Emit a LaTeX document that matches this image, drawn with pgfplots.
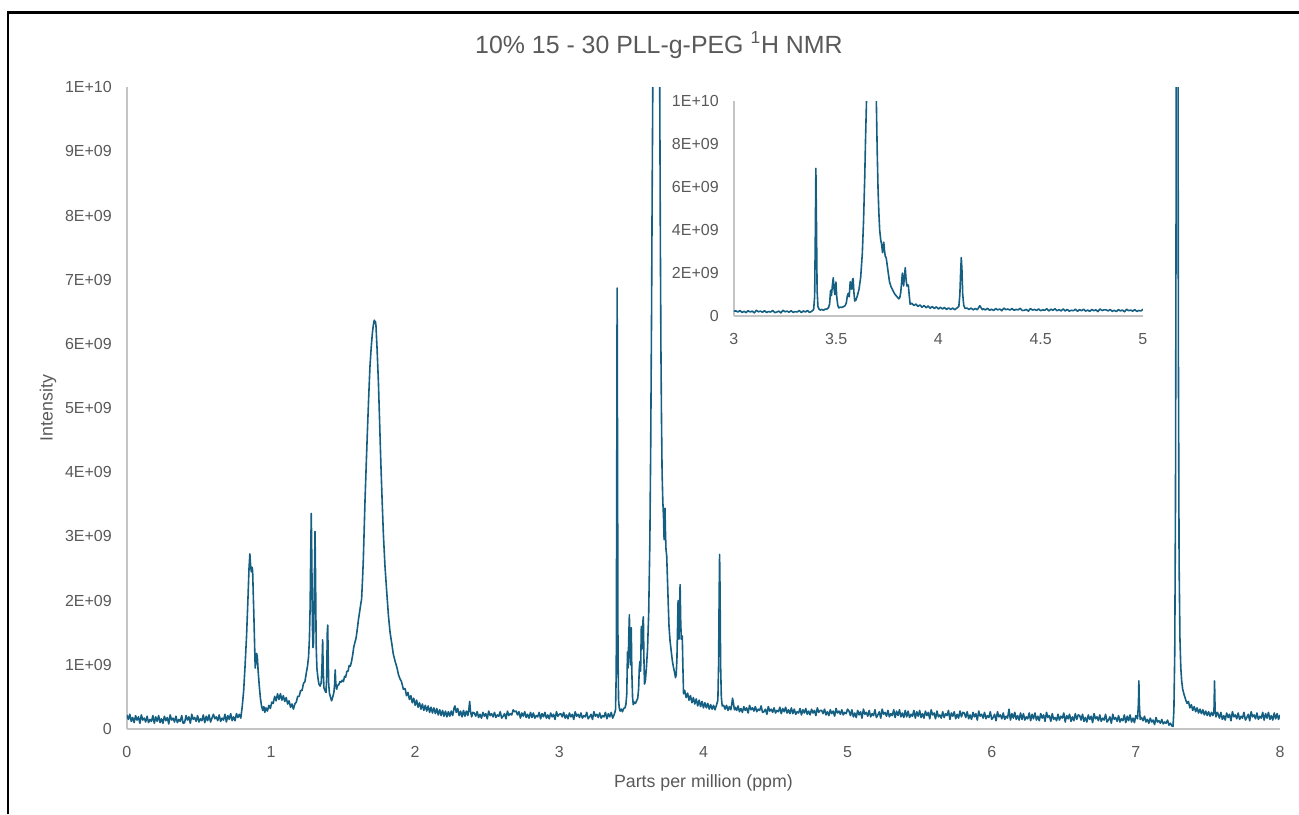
\documentclass[border=0pt]{standalone}
\usepackage{fontspec}
\setmainfont{Liberation Sans}
\usepackage{pgfplots}
\usepackage{pgfplotstable}
\pgfplotsset{compat=1.18}
\definecolor{specblue}{HTML}{156082}
\definecolor{txtgray}{HTML}{595959}
\definecolor{axgray}{HTML}{C4C4C4}

% spectrum, intensity in units of 1E9
\pgfplotstableread{
x y
0.00 0.22
0.01 0.15
0.02 0.23
0.03 0.12
0.04 0.18
0.05 0.10
0.06 0.21
0.07 0.14
0.08 0.19
0.09 0.09
0.10 0.22
0.11 0.14
0.12 0.17
0.13 0.11
0.14 0.20
0.15 0.10
0.16 0.15
0.17 0.12
0.18 0.21
0.19 0.09
0.20 0.19
0.21 0.12
0.22 0.21
0.23 0.10
0.24 0.16
0.25 0.09
0.26 0.20
0.27 0.13
0.28 0.18
0.29 0.08
0.30 0.22
0.31 0.14
0.32 0.17
0.33 0.11
0.34 0.20
0.35 0.10
0.36 0.15
0.37 0.12
0.38 0.21
0.39 0.09
0.40 0.10
0.41 0.21
0.42 0.14
0.43 0.19
0.44 0.09
0.45 0.23
0.46 0.15
0.47 0.18
0.48 0.12
0.49 0.21
0.50 0.11
0.51 0.16
0.52 0.13
0.53 0.22
0.54 0.10
0.55 0.20
0.56 0.13
0.57 0.22
0.58 0.11
0.59 0.17
0.60 0.23
0.61 0.16
0.62 0.19
0.63 0.13
0.64 0.22
0.65 0.12
0.66 0.17
0.67 0.14
0.68 0.23
0.69 0.11
0.70 0.21
0.71 0.15
0.72 0.24
0.73 0.13
0.74 0.19
0.75 0.13
0.76 0.24
0.77 0.18
0.78 0.23
0.79 0.17
0.800 0.35
0.810 0.60
0.820 1.00
0.830 1.45
0.840 2.05
0.847 2.50
0.853 2.73
0.858 2.55
0.863 2.45
0.868 2.52
0.872 2.47
0.876 2.15
0.881 1.75
0.886 1.30
0.890 0.95
0.895 1.05
0.900 1.18
0.905 1.12
0.910 0.92
0.918 0.68
0.926 0.48
0.934 0.36
0.942 0.29
0.950 0.35
0.957 0.26
0.965 0.33
0.975 0.28
0.985 0.37
0.995 0.32
1.005 0.42
1.015 0.40
1.025 0.51
1.035 0.44
1.045 0.55
1.055 0.46
1.065 0.55
1.075 0.45
1.085 0.52
1.095 0.43
1.105 0.49
1.115 0.39
1.125 0.44
1.135 0.34
1.145 0.39
1.155 0.31
1.165 0.39
1.175 0.42
1.185 0.51
1.195 0.51
1.205 0.60
1.215 0.60
1.225 0.71
1.235 0.74
1.245 0.88
1.253 0.98
1.260 1.12
1.266 1.40
1.271 1.90
1.275 2.70
1.279 3.36
1.283 2.60
1.287 1.60
1.291 1.27
1.295 1.35
1.300 2.20
1.305 3.08
1.309 2.30
1.313 1.30
1.318 0.95
1.325 0.80
1.332 0.70
1.340 0.67
1.348 0.72
1.353 0.95
1.358 1.39
1.362 0.90
1.367 0.64
1.374 0.60
1.381 0.57
1.386 0.80
1.390 1.50
1.393 1.62
1.396 1.20
1.400 0.70
1.405 0.56
1.412 0.50
1.420 0.44
1.428 0.50
1.436 0.57
1.441 0.70
1.445 0.92
1.449 0.72
1.455 0.62
1.462 0.68
1.470 0.69
1.478 0.74
1.486 0.73
1.494 0.76
1.502 0.74
1.510 0.82
1.518 0.81
1.526 0.90
1.534 0.90
1.542 0.99
1.550 0.98
1.558 1.05
1.566 1.15
1.574 1.28
1.582 1.35
1.590 1.42
1.598 1.55
1.606 1.70
1.614 1.82
1.622 1.94
1.628 2.02
1.634 2.30
1.640 2.63
1.646 3.10
1.652 3.57
1.660 4.10
1.668 4.61
1.677 5.15
1.686 5.64
1.695 5.95
1.703 6.17
1.710 6.30
1.716 6.37
1.720 6.32
1.724 6.35
1.728 6.28
1.736 5.90
1.745 5.39
1.753 4.80
1.761 4.19
1.770 3.60
1.779 3.05
1.790 2.55
1.803 2.12
1.815 1.75
1.826 1.50
1.837 1.34
1.848 1.17
1.860 1.06
1.872 0.97
1.885 0.84
1.895 0.78
1.905 0.74
1.918 0.62
1.930 0.63
1.940 0.52
1.950 0.57
1.960 0.46
1.970 0.52
1.980 0.41
1.990 0.48
2.000 0.37
2.010 0.45
2.020 0.34
2.030 0.41
2.040 0.31
2.050 0.39
2.060 0.29
2.070 0.37
2.080 0.28
2.090 0.36
2.100 0.26
2.110 0.34
2.120 0.25
2.130 0.33
2.140 0.24
2.150 0.32
2.160 0.22
2.170 0.30
2.180 0.21
2.190 0.29
2.200 0.20
2.210 0.28
2.220 0.19
2.230 0.27
2.240 0.20
2.250 0.28
2.260 0.21
2.270 0.33
2.276 0.36
2.285 0.26
2.295 0.32
2.305 0.21
2.315 0.28
2.325 0.19
2.335 0.29
2.345 0.20
2.355 0.28
2.365 0.21
2.372 0.30
2.378 0.43
2.384 0.27
2.392 0.19
2.400 0.26
2.41 0.25
2.42 0.20
2.43 0.27
2.44 0.18
2.45 0.23
2.46 0.17
2.47 0.26
2.48 0.20
2.49 0.24
2.50 0.16
2.51 0.28
2.52 0.21
2.53 0.24
2.54 0.19
2.55 0.26
2.56 0.18
2.57 0.22
2.58 0.20
2.59 0.27
2.60 0.17
2.61 0.20
2.62 0.24
2.63 0.16
2.64 0.28
2.65 0.21
2.66 0.24
2.67 0.22
2.68 0.30
2.69 0.27
2.70 0.28
2.71 0.22
2.72 0.27
2.73 0.17
2.74 0.25
2.75 0.20
2.76 0.27
2.77 0.18
2.78 0.23
2.79 0.17
2.80 0.26
2.81 0.18
2.82 0.25
2.83 0.17
2.84 0.21
2.85 0.19
2.86 0.26
2.87 0.16
2.88 0.24
2.89 0.19
2.90 0.26
2.91 0.17
2.92 0.22
2.93 0.16
2.94 0.25
2.95 0.19
2.96 0.23
2.97 0.15
2.98 0.27
2.99 0.20
3.00 0.23
3.01 0.24
3.02 0.19
3.03 0.26
3.04 0.17
3.05 0.22
3.06 0.16
3.07 0.25
3.08 0.19
3.09 0.23
3.10 0.15
3.11 0.27
3.12 0.20
3.13 0.23
3.14 0.18
3.15 0.25
3.16 0.17
3.17 0.21
3.18 0.19
3.19 0.26
3.20 0.16
3.21 0.19
3.22 0.23
3.23 0.15
3.24 0.27
3.25 0.20
3.26 0.23
3.27 0.18
3.28 0.25
3.29 0.17
3.30 0.21
3.31 0.19
3.32 0.26
3.33 0.16
3.34 0.24
3.35 0.19
3.36 0.26
3.37 0.17
3.38 0.22
3.390 0.30
3.395 0.90
3.398 3.50
3.401 6.87
3.404 4.20
3.407 1.20
3.411 0.45
3.416 0.33
3.422 0.28
3.430 0.31
3.438 0.27
3.446 0.32
3.455 0.33
3.462 0.38
3.468 0.55
3.473 1.20
3.477 0.95
3.482 1.45
3.486 1.78
3.490 1.25
3.494 1.00
3.499 1.58
3.503 0.90
3.508 0.50
3.513 0.38
3.520 0.42
3.528 0.40
3.536 0.44
3.544 0.48
3.550 0.62
3.555 0.95
3.559 1.05
3.564 0.90
3.569 1.60
3.573 1.35
3.576 1.25
3.580 1.68
3.583 1.75
3.587 1.10
3.591 0.70
3.597 0.75
3.604 0.95
3.612 1.25
3.620 1.80
3.628 2.90
3.634 4.40
3.640 6.50
3.644 8.30
3.649 10.2
3.655 15.0
3.662 25.0
3.668 35.0
3.674 38.0
3.680 30.0
3.686 20.0
3.692 13.0
3.697 9.8
3.701 7.6
3.705 5.9
3.709 4.80
3.713 4.00
3.718 3.55
3.723 3.30
3.727 2.95
3.730 3.20
3.733 3.44
3.736 3.10
3.740 2.80
3.745 2.70
3.750 2.35
3.755 2.00
3.761 1.60
3.768 1.38
3.777 1.20
3.785 1.05
3.793 0.95
3.800 0.88
3.806 0.80
3.811 0.85
3.816 1.10
3.820 1.55
3.824 2.00
3.827 1.80
3.830 1.40
3.834 1.85
3.838 2.25
3.842 1.70
3.846 1.40
3.850 1.45
3.853 1.45
3.857 1.00
3.862 0.55
3.870 0.60
3.880 0.49
3.890 0.56
3.900 0.45
3.910 0.52
3.920 0.41
3.930 0.49
3.940 0.39
3.950 0.47
3.960 0.36
3.970 0.45
3.980 0.35
3.990 0.43
4.000 0.33
4.010 0.41
4.020 0.33
4.030 0.40
4.040 0.31
4.050 0.38
4.060 0.31
4.070 0.37
4.080 0.30
4.090 0.37
4.100 0.45
4.105 1.00
4.109 2.10
4.112 2.72
4.115 2.20
4.119 1.00
4.124 0.50
4.130 0.36
4.140 0.37
4.150 0.31
4.160 0.37
4.170 0.29
4.180 0.35
4.190 0.30
4.196 0.38
4.202 0.48
4.208 0.40
4.215 0.30
4.22 0.34
4.23 0.29
4.24 0.36
4.25 0.27
4.26 0.32
4.27 0.26
4.28 0.35
4.29 0.29
4.30 0.33
4.31 0.25
4.32 0.37
4.33 0.30
4.34 0.33
4.35 0.28
4.36 0.35
4.37 0.27
4.38 0.31
4.39 0.29
4.40 0.36
4.41 0.26
4.42 0.27
4.43 0.31
4.44 0.23
4.45 0.35
4.46 0.28
4.47 0.31
4.48 0.26
4.49 0.33
4.50 0.25
4.51 0.29
4.52 0.27
4.53 0.34
4.54 0.24
4.55 0.32
4.56 0.27
4.57 0.34
4.58 0.25
4.59 0.30
4.60 0.24
4.61 0.33
4.62 0.24
4.63 0.31
4.64 0.23
4.65 0.27
4.66 0.25
4.67 0.32
4.68 0.22
4.69 0.30
4.70 0.25
4.71 0.32
4.72 0.23
4.73 0.28
4.74 0.22
4.75 0.31
4.76 0.25
4.77 0.29
4.78 0.21
4.79 0.33
4.80 0.26
4.81 0.29
4.82 0.29
4.83 0.24
4.84 0.31
4.85 0.22
4.86 0.27
4.87 0.21
4.88 0.30
4.89 0.24
4.90 0.28
4.91 0.20
4.92 0.32
4.93 0.25
4.94 0.28
4.95 0.23
4.96 0.30
4.97 0.22
4.98 0.26
4.99 0.24
5.00 0.31
5.01 0.28
5.02 0.21
5.03 0.30
5.04 0.19
5.05 0.25
5.06 0.18
5.07 0.29
5.08 0.22
5.09 0.27
5.10 0.17
5.11 0.31
5.12 0.23
5.13 0.26
5.14 0.20
5.15 0.29
5.16 0.19
5.17 0.24
5.18 0.21
5.19 0.30
5.20 0.18
5.21 0.22
5.22 0.27
5.23 0.17
5.24 0.31
5.25 0.23
5.26 0.26
5.27 0.20
5.28 0.29
5.29 0.19
5.30 0.24
5.31 0.21
5.32 0.30
5.33 0.18
5.34 0.28
5.35 0.21
5.36 0.30
5.37 0.19
5.38 0.25
5.39 0.18
5.40 0.29
5.41 0.19
5.42 0.28
5.43 0.18
5.44 0.23
5.45 0.20
5.46 0.29
5.47 0.17
5.48 0.27
5.49 0.20
5.50 0.29
5.51 0.18
5.52 0.24
5.53 0.17
5.54 0.28
5.55 0.21
5.56 0.26
5.57 0.16
5.58 0.30
5.59 0.22
5.60 0.25
5.61 0.16
5.62 0.28
5.63 0.19
5.64 0.22
5.65 0.17
5.66 0.27
5.67 0.18
5.68 0.24
5.69 0.21
5.70 0.29
5.71 0.15
5.72 0.25
5.73 0.20
5.74 0.27
5.75 0.16
5.76 0.23
5.77 0.17
5.78 0.28
5.79 0.19
5.80 0.26
5.81 0.25
5.82 0.18
5.83 0.27
5.84 0.16
5.85 0.22
5.86 0.15
5.87 0.26
5.88 0.19
5.89 0.24
5.90 0.14
5.91 0.28
5.92 0.20
5.93 0.23
5.94 0.17
5.95 0.26
5.96 0.16
5.97 0.21
5.98 0.18
5.99 0.27
6.00 0.15
6.01 0.18
6.02 0.23
6.03 0.13
6.04 0.27
6.05 0.19
6.06 0.22
6.07 0.16
6.08 0.25
6.09 0.15
6.10 0.20
6.11 0.17
6.12 0.31
6.13 0.14
6.14 0.24
6.15 0.17
6.16 0.26
6.17 0.15
6.18 0.21
6.19 0.14
6.20 0.25
6.21 0.15
6.22 0.24
6.23 0.14
6.24 0.19
6.25 0.16
6.26 0.25
6.27 0.13
6.28 0.23
6.29 0.16
6.30 0.25
6.31 0.14
6.32 0.20
6.33 0.13
6.34 0.24
6.35 0.17
6.36 0.22
6.37 0.12
6.38 0.26
6.39 0.18
6.40 0.21
6.41 0.12
6.42 0.24
6.43 0.15
6.44 0.18
6.45 0.13
6.46 0.23
6.47 0.14
6.48 0.20
6.49 0.17
6.50 0.25
6.51 0.11
6.52 0.21
6.53 0.16
6.54 0.23
6.55 0.12
6.56 0.19
6.57 0.13
6.58 0.24
6.59 0.15
6.60 0.22
6.61 0.21
6.62 0.14
6.63 0.23
6.64 0.12
6.65 0.18
6.66 0.11
6.67 0.22
6.68 0.15
6.69 0.20
6.70 0.10
6.71 0.24
6.72 0.16
6.73 0.19
6.74 0.13
6.75 0.22
6.76 0.12
6.77 0.17
6.78 0.14
6.79 0.23
6.80 0.11
6.81 0.14
6.82 0.19
6.83 0.09
6.84 0.23
6.85 0.15
6.86 0.18
6.87 0.12
6.88 0.21
6.89 0.11
6.90 0.16
6.91 0.13
6.92 0.22
6.93 0.10
6.94 0.20
6.95 0.13
6.96 0.22
6.97 0.11
6.98 0.17
6.99 0.10
7.000 0.21
7.012 0.16
7.018 0.40
7.021 0.75
7.024 0.40
7.030 0.15
7.04 0.18
7.05 0.13
7.06 0.20
7.07 0.11
7.08 0.15
7.09 0.09
7.10 0.17
7.11 0.11
7.12 0.14
7.13 0.07
7.14 0.18
7.15 0.11
7.16 0.13
7.17 0.09
7.18 0.15
7.19 0.08
7.20 0.11
7.21 0.09
7.22 0.14
7.23 0.06
7.24 0.09
7.25 0.05
7.258 0.04
7.264 0.30
7.270 1.20
7.275 3.50
7.279 8.0
7.283 18.0
7.287 25.0
7.291 14.0
7.295 6.0
7.300 2.6
7.306 1.40
7.312 0.95
7.318 0.75
7.325 0.62
7.333 0.55
7.340 0.50
7.348 0.44
7.356 0.40
7.365 0.43
7.375 0.33
7.385 0.38
7.395 0.29
7.405 0.35
7.415 0.27
7.425 0.33
7.435 0.25
7.445 0.31
7.455 0.24
7.465 0.30
7.475 0.22
7.485 0.28
7.495 0.21
7.505 0.27
7.515 0.20
7.525 0.26
7.535 0.21
7.542 0.27
7.546 0.75
7.550 0.28
7.556 0.19
7.565 0.26
7.57 0.24
7.58 0.17
7.59 0.26
7.60 0.15
7.61 0.21
7.62 0.14
7.63 0.25
7.64 0.18
7.65 0.23
7.66 0.13
7.67 0.27
7.68 0.19
7.69 0.22
7.70 0.16
7.71 0.25
7.72 0.15
7.73 0.20
7.74 0.17
7.75 0.26
7.76 0.14
7.77 0.18
7.78 0.23
7.79 0.13
7.80 0.27
7.81 0.19
7.82 0.22
7.83 0.16
7.84 0.25
7.85 0.15
7.86 0.20
7.87 0.17
7.88 0.26
7.89 0.14
7.90 0.24
7.91 0.17
7.92 0.26
7.93 0.15
7.94 0.21
7.95 0.14
7.96 0.25
7.97 0.16
7.98 0.24
7.99 0.15
8.00 0.22
}\spec

\pgfplotsset{
  nmrstyle/.style={
    scale only axis,
    axis x line=bottom, axis y line=left,
    axis line style={axgray, line width=0.8pt, -},
    major tick length=0pt,
    ticklabel style={font=\fontsize{9}{10}\selectfont, text=txtgray},
    yticklabel style={xshift=-5pt},
    xticklabel style={yshift=-6pt},
    ymin=0, ymax=10,
    clip=true,
  },
}

\begin{document}
\begin{tikzpicture}
  \useasboundingbox (-71.4pt,-47.8pt) rectangle (659.3pt,410.1pt);
  \draw[line width=1.6pt, black] (-66.9pt,-48pt) -- (-66.9pt,403.3pt) -- (660pt,403.3pt);

  \begin{axis}[
    nmrstyle,
    width=648.6pt, height=361.1pt,
    xmin=0, xmax=8,
    xtick={0,1,2,3,4,5,6,7,8},
    xticklabels={0,1,2,3,4,5,6,7,8},
    ytick={0,1,2,3,4,5,6,7,8,9,10},
    yticklabels={0,1E+09,2E+09,3E+09,4E+09,5E+09,6E+09,7E+09,8E+09,9E+09,1E+10},
    xlabel={Parts per million (ppm)},
    ylabel={Intensity},
    xlabel style={at={(axis description cs:0.5,-0.0842)}, anchor=center,
                  font=\fontsize{10}{12}\selectfont, text=txtgray},
    ylabel style={at={(axis description cs:-0.0685,0.5)}, anchor=center,
                  font=\fontsize{10}{12}\selectfont, text=txtgray},
    title={10\% 15 - 30 PLL-g-PEG \textsuperscript{1}H NMR},
    title style={at={(axis description cs:0.4614,1.0488)}, anchor=center,
                 font=\fontsize{14}{16}\selectfont, text=txtgray},
  ]
    \addplot[specblue, line width=0.9pt, line join=round] table[x=x, y=y] {\spec};
  \end{axis}

  \begin{axis}[
    nmrstyle,
    at={(341.4pt,232.3pt)}, anchor=south west,
    width=230.1pt, height=120.9pt,
    xmin=3, xmax=5,
    xtick={3,3.5,4,4.5,5},
    xticklabels={3,3.5,4,4.5,5},
    ytick={0,2,4,6,8,10},
    yticklabels={0,2E+09,4E+09,6E+09,8E+09,1E+10},
  ]
    \addplot[specblue, line width=0.9pt, line join=round,
             restrict x to domain=2.95:5.05] table[x=x, y=y] {\spec};
  \end{axis}
\end{tikzpicture}
\end{document}
